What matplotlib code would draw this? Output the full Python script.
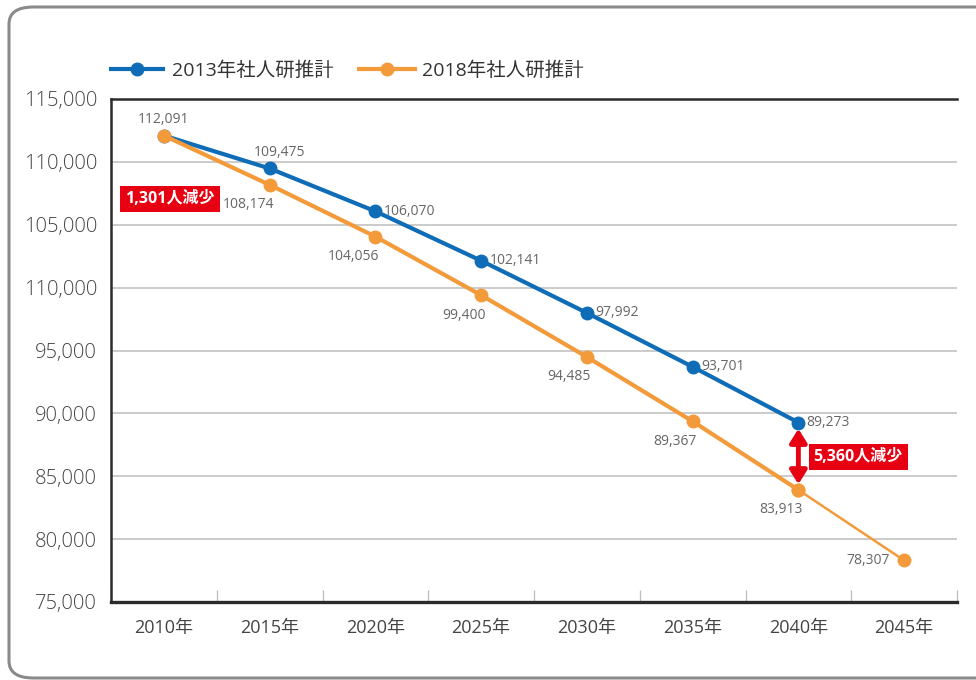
import matplotlib
matplotlib.use("Agg")
import matplotlib.pyplot as plt
from matplotlib.patches import FancyBboxPatch
from matplotlib.ticker import FixedLocator

plt.rcParams['font.family'] = ['Open Sans', 'Noto Sans CJK JP', 'DejaVu Sans']

years = ["2010年", "2015年", "2020年", "2025年", "2030年", "2035年", "2040年", "2045年"]
est2013 = [112091, 109475, 106070, 102141, 97992, 93701, 89273]
est2018 = [112091, 108174, 104056, 99400, 94485, 89367, 83913, 78307]
series_names = ["2013年社人研推計", "2018年社人研推計"]
ytick_vals = [75000, 80000, 85000, 90000, 95000, 100000, 105000, 110000, 115000]
ytick_labels = ["75,000", "80,000", "85,000", "90,000", "95,000", "110,000", "105,000", "110,000", "115,000"]
note_2015 = "1,301人減少"
note_2040 = "5,360人減少"

BLUE = "#0f6cb6"
ORANGE = "#f39a3b"
RED = "#e60012"
LBL = "#666666"

fig = plt.figure(figsize=(9.76, 6.8), dpi=100)

# rounded frame
frame = FancyBboxPatch((9 / 976, 2 / 680), 1.2, (671) / 680,
                       boxstyle="round,pad=0,rounding_size=0.025",
                       transform=fig.transFigure, fill=False,
                       edgecolor="#8a8a8a", linewidth=2.2, clip_on=False)
fig.patches.append(frame)

ax = fig.add_axes([111 / 976, 1 - 602 / 680, (957 - 111) / 976, (602 - 99) / 680])

x13 = list(range(len(est2013)))
x18 = list(range(len(est2018)))

ax.plot(x13, est2013, color=BLUE, lw=3, marker="o", ms=9, zorder=4,
        label=series_names[0], solid_capstyle="butt")
ax.plot(x18[:7], est2018[:7], color=ORANGE, lw=3, marker="o", ms=9, zorder=5,
        label=series_names[1])
ax.plot(x18[6:], est2018[6:], color=ORANGE, lw=1.8, marker="o", ms=9, zorder=5)

ax.set_xlim(-0.5, len(years) - 0.5)
ax.set_ylim(75000, 115000)

# y axis
ax.yaxis.set_major_locator(FixedLocator(ytick_vals))
ax.set_yticklabels(ytick_labels)
ax.tick_params(axis="y", length=0, pad=10, labelsize=14.5, labelcolor="#444444")
for t in ax.get_yticklabels():
    t.set_fontweight("light")
for v in ytick_vals[1:-1]:
    ax.axhline(v, color="#bdbdbd", lw=1.1, zorder=1)

# x axis
ax.set_xticks(range(len(years)))
ax.set_xticklabels(years)
ax.tick_params(axis="x", which="major", length=0, pad=12, labelsize=13, labelcolor="#444444")
ax.set_xticks([i - 0.5 for i in range(len(years) + 1)], minor=True)
ax.tick_params(axis="x", which="minor", direction="in", length=9, width=0.9, color="#bdbdbd")

for s in ["left", "top", "bottom"]:
    ax.spines[s].set_color("#2b2b2b")
ax.spines["left"].set_linewidth(1.8)
ax.spines["top"].set_linewidth(1.8)
ax.spines["bottom"].set_linewidth(2.4)
ax.spines["right"].set_visible(False)

# data labels
def fmt(v):
    return f"{v:,}"

lbl_kw = dict(fontsize=10, color=LBL, zorder=6)
ax.annotate(fmt(est2013[0]), (0, est2013[0]), xytext=(0, 6), textcoords="offset points",
            ha="center", va="bottom", **lbl_kw)
ax.annotate(fmt(est2013[1]), (1, est2013[1]), xytext=(7, 6), textcoords="offset points",
            ha="center", va="bottom", **lbl_kw)
for i in range(2, len(est2013)):
    ax.annotate(fmt(est2013[i]), (i, est2013[i]), xytext=(6, 0), textcoords="offset points",
                ha="left", va="center", **lbl_kw)
for i in range(1, 7):
    ax.annotate(fmt(est2018[i]), (i, est2018[i]), xytext=(3, -9), textcoords="offset points",
                ha="right", va="top", **lbl_kw)
ax.annotate(fmt(est2018[7]), (7, est2018[7]), xytext=(-10, 0), textcoords="offset points",
            ha="right", va="center", **lbl_kw)

# red notes
box = dict(boxstyle="square,pad=0.32", facecolor=RED, edgecolor="none")
ax.annotate(note_2015, (1, est2018[1]), xytext=(-104, -10), textcoords="offset points",
            ha="left", va="center", fontsize=11.5, fontweight="bold", color="white",
            bbox=box, zorder=7)
ax.annotate(note_2040, (6, est2013[6]), xytext=(11, -25), textcoords="offset points",
            ha="left", va="center", fontsize=11.5, fontweight="bold", color="white",
            bbox=box, zorder=7)
ax.annotate("", xy=(6, est2013[6] - 500), xytext=(6, est2018[6] + 450),
            arrowprops=dict(arrowstyle="<|-|>,head_length=0.8,head_width=0.5",
                            color=RED, lw=3.5, shrinkA=0, shrinkB=0), zorder=7)

# legend
ax.legend(loc="lower left", bbox_to_anchor=(-0.012, 1.022), ncol=2, frameon=False,
          handlelength=2.9, handletextpad=0.35, columnspacing=1.3,
          fontsize=14, labelcolor="#333333", borderaxespad=0)

fig.savefig("out.png", dpi=100)
